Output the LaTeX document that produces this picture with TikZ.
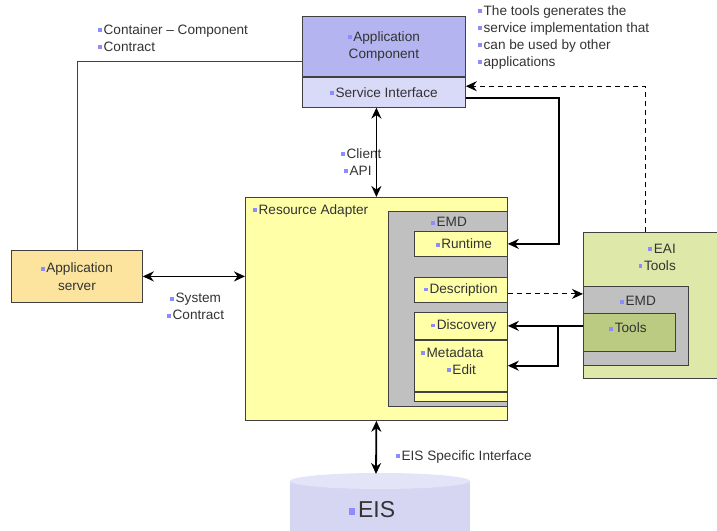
\documentclass[tikz,border=0pt]{standalone}
\usepackage{fontspec}
\setmainfont{Liberation Sans}
\usetikzlibrary{arrows.meta}

\definecolor{boxline}{HTML}{404040}
\definecolor{textgrey}{HTML}{333333}
\definecolor{bulletblue}{HTML}{8C8CFF}
\definecolor{compblue}{HTML}{B4B4F0}
\definecolor{ifblue}{HTML}{D9D9F8}
\definecolor{rayellow}{HTML}{FFFFA8}
\definecolor{emdgrey}{HTML}{C0C0C0}
\definecolor{serverorange}{HTML}{FCE49E}
\definecolor{eaigreen}{HTML}{DEE9A9}
\definecolor{toolsolive}{HTML}{BCCB82}
\definecolor{eisbody}{HTML}{D6D6F3}
\definecolor{eiscap}{HTML}{E4E4F8}

% small blue bullet in front of each text line
\newcommand{\bl}{{\color{bulletblue}\rule[0.28ex]{0.28em}{0.28em}}\hspace{0.12em}}

\begin{document}
\begin{tikzpicture}[x=1pt, y=-1pt,
    >={Stealth[length=11pt,width=10pt]},
    box/.style={draw=boxline, line width=0.8pt, inner sep=0pt, anchor=north west,
        text=textgrey, font=\fontsize{13.6}{17.5}\selectfont, align=center},
    lbl/.style={inner sep=0pt, text=textgrey, font=\fontsize{13.6}{17}\selectfont, align=left},
    link/.style={line width=1.8pt},
    dlink/.style={line width=1pt, dash pattern=on 5pt off 4pt}]
    \useasboundingbox (0,0) rectangle (717,530);

    % Application component on top
    \node[box, fill=compblue, minimum width=163pt, minimum height=60pt] (appcomp) at (302,16)
        {\bl Application\\Component};
    \node[box, fill=ifblue, minimum width=163pt, minimum height=30pt] (svcif) at (appcomp.south west)
        {\bl Service Interface};

    % Resource adapter with its EMD part
    \node[box, fill=rayellow, minimum width=262pt, minimum height=223pt] (ra) at (245,197) {};
    \node[lbl, anchor=north west] (ralbl) at (253,204) {\bl Resource Adapter};
    \node[box, fill=emdgrey, minimum width=119pt, minimum height=195pt] (emd) at (388,211) {};
    \node[lbl] (emdlbl) at (449,222) {\bl EMD};
    \node[box, fill=rayellow, minimum width=93pt, minimum height=25pt] (runtime) at (414,231) {\hspace{6pt}\bl Runtime};
    \node[box, fill=rayellow, minimum width=93pt, minimum height=25pt] (desc) at (414,277) {\bl Description};
    \node[box, fill=rayellow, minimum width=93pt, minimum height=27pt] (disc) at (414,312) {\hspace{6pt}\bl Discovery};
    \node[box, fill=rayellow, minimum width=93pt, minimum height=51pt] (meta) at (disc.south west) {};
    \node[box, fill=rayellow, minimum width=93pt, minimum height=9pt] (strip) at (meta.south west) {};
    \node[lbl, anchor=north west] (metalbl) at (421,347) {\bl Metadata\\\hspace{1.9em}\bl Edit};

    % Application server
    \node[box, fill=serverorange, minimum width=131pt, minimum height=52pt] (appserver) at (11,250)
        {\bl Application\\server};

    % EAI tools
    \node[box, fill=eaigreen, minimum width=134pt, minimum height=146pt] (eai) at (583,232) {};
    \node[lbl, anchor=east, align=right] (eailbl) at (676,257) {\bl EAI\\\bl Tools};
    \node[box, fill=emdgrey, minimum width=105pt, minimum height=79pt] (emdtools) at (583,286) {};
    \node[lbl] (emdtoolslbl) at (638,301) {\bl EMD};
    \node[box, fill=toolsolive, minimum width=92pt, minimum height=38pt] (tools) at (583,313) {};
    \node[lbl] (toolslbl) at (628,328) {\bl Tools};

    % EIS drum
    \fill[eisbody] (290,481) rectangle (470,545);
    \fill[eiscap] (380,481) ellipse (90 and 8);
    \coordinate (eistop) at (376,474);
    \node[lbl, font=\fontsize{23}{26}\selectfont] (eis) at (372,510) {\bl EIS};

    % Free labels
    \node[lbl, anchor=north west] (contractlbl) at (98,24) {\bl Container -- Component\\\bl Contract};
    \node[lbl, anchor=north west] (notelbl) at (478,5)
        {\bl The tools generates the\\\bl service implementation that\\\bl can be used by other\\\bl applications};
    \node[lbl, anchor=north west] (clientlbl) at (341,148) {\bl Client\\\hspace{3pt}\bl API};
    \node[lbl, anchor=north west, align=center] (systemlbl) at (167,293) {\bl System\\\bl Contract};
    \node[lbl, anchor=north west] (eisiflbl) at (396,450) {\bl EIS Specific Interface};

    % Draw connectors
    \draw[boxline, line width=0.8pt] (appserver.north) |- ([yshift=-15pt]appcomp.west);
    \draw[link,<->] (ra.north) -- (ra.north |- svcif.south);
    \draw[link,->] ([yshift=-6pt]svcif.east) -| ([xshift=51pt]runtime.east) -- (runtime.east);
    \draw[dlink,->] ([xshift=-5pt]eai.north) |- ([yshift=6pt]svcif.east);
    \draw[link,<->] (appserver.east) -- (appserver.east -| ra.west);
    \draw[link,<->] (ra.south) -- (eistop);
    \draw[dlink,->] ([yshift=-4pt]desc.east) -- ([yshift=-4pt]desc.east -| emdtools.west);
    \draw[link,->] (disc.east -| tools.west) -- (disc.east);
    \coordinate (branch) at ([xshift=50pt]disc.east);
    \draw[link,->] (branch) |- (meta.east);
\end{tikzpicture}
\end{document}
